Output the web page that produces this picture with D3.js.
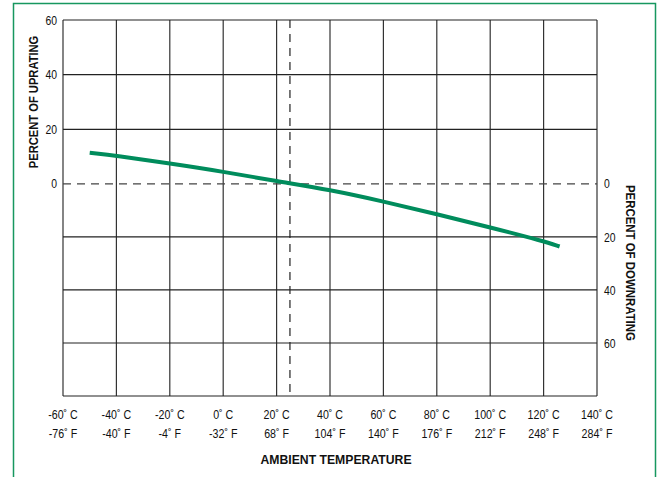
<!DOCTYPE html>
<html>
<head>
<meta charset="utf-8">
<script src="https://cdn.jsdelivr.net/npm/d3@7"></script>
<style>
  body { margin: 0; background: #fff; }
  text { font-family: "Liberation Sans", Arial, sans-serif; fill: #111; }
</style>
</head>
<body>
<div id="chart"></div>
<script>
// temperature ticks (C / F labels)
const tempTicks = [-60, -40, -20, 0, 20, 40, 60, 80, 100, 120, 140];
const fahrLabels = ["-76", "-40", "-4", "-32", "68", "104", "140", "176", "212", "248", "284"];

// up ticks (left) and down ticks (right)
const upTicks = [0, 20, 40, 60];
const downTicks = [0, 20, 40, 60];

// curve: temperature in C, percent (+ uprating, - downrating)
const curveTemp = [-50, -40, -20, 0, 20, 40, 60, 80, 100, 120, 126];
const curvePct = [11.4, 10.3, 7.5, 4.5, 1.0, -2.2, -6.6, -11.4, -16.4, -21.6, -23.6];

const refTemp = 25;

const W = 657, H = 477;
const margin = { top: 20, right: 60, bottom: 81, left: 63 },
  width = W - margin.left - margin.right,
  height = H - margin.top - margin.bottom;

const svg = d3.select("#chart")
  .append("svg")
  .attr("width", W)
  .attr("height", H);

// green frame (open at the bottom)
svg.append("path")
  .attr("d", `M13.5,${H} L13.5,3.5 L655.5,3.5 L655.5,${H}`)
  .attr("fill", "none")
  .attr("stroke", "#17975f")
  .attr("stroke-width", 1.5);

const g = svg.append("g")
  .attr("transform", `translate(${margin.left},${margin.top})`);

const x = d3.scaleLinear()
  .domain([-60, 140])
  .range([0, width]);

// upper part is a little stretched in the original
const y = d3.scaleLinear()
  .domain([60, 0, -80])
  .range([0, height * 0.436, height]);

// grid
g.selectAll(".vgrid")
  .data(tempTicks)
  .join("line")
  .attr("x1", d => x(d)).attr("x2", d => x(d))
  .attr("y1", 0).attr("y2", height)
  .attr("stroke", "#333").attr("stroke-width", 1.2);

const hgrid = [60, 40, 20, -20, -40, -60, -80];
g.selectAll(".hgrid")
  .data(hgrid)
  .join("line")
  .attr("x1", 0).attr("x2", width)
  .attr("y1", d => y(d)).attr("y2", d => y(d))
  .attr("stroke", "#222").attr("stroke-width", 1.2);

// dashed reference lines
g.append("line")
  .attr("x1", 0).attr("x2", width)
  .attr("y1", y(0)).attr("y2", y(0))
  .attr("stroke", "#444").attr("stroke-width", 1.2)
  .attr("stroke-dasharray", "8,6");
g.append("line")
  .attr("x1", x(refTemp)).attr("x2", x(refTemp))
  .attr("y1", 0).attr("y2", height)
  .attr("stroke", "#222").attr("stroke-width", 1.2)
  .attr("stroke-dasharray", "8,6");

// curve
const pts = curveTemp.map((t, i) => [t, curvePct[i]]);
g.append("path")
  .datum(pts)
  .attr("fill", "none")
  .attr("stroke", "#008c5c")
  .attr("stroke-width", 4)
  .attr("d", d3.line()
    .x(d => x(d[0]))
    .y(d => y(d[1]))
    .curve(d3.curveBasis));

// left axis labels
g.selectAll(".upl")
  .data(upTicks)
  .join("text")
  .attr("transform", d => `translate(-6,${y(d)}) scale(0.8,1)`)
  .attr("dy", "0.35em")
  .attr("text-anchor", "end")
  .attr("font-size", 13)
  .text(d => d);

// right axis labels
g.selectAll(".dnl")
  .data(downTicks)
  .join("text")
  .attr("transform", d => `translate(${width + 7},${y(-d)}) scale(0.8,1)`)
  .attr("dy", "0.35em")
  .attr("text-anchor", "start")
  .attr("font-size", 13)
  .text(d => d);

// bottom labels
const xl = g.selectAll(".xl")
  .data(tempTicks)
  .join("text")
  .attr("text-anchor", "middle")
  .attr("font-size", 13)
  .attr("transform", d => `translate(${x(d)},${height + 23}) scale(0.82,1)`);
xl.append("tspan").attr("x", 0).attr("y", 0).text(d => `${d}\u02DA C`);
xl.append("tspan").attr("x", 0).attr("y", 19).text((d, i) => `${fahrLabels[i]}\u02DA F`);

// titles
g.append("text")
  .attr("transform", `translate(-25.5,${y(30)}) rotate(-90) scale(0.86,1)`)
  .attr("text-anchor", "middle")
  .attr("font-size", 13)
  .attr("font-weight", "bold")
  .text("PERCENT OF UPRATING");

g.append("text")
  .attr("transform", `translate(${width + 29},${y(0) + 1}) rotate(90) scale(0.88,1)`)
  .attr("text-anchor", "start")
  .attr("font-size", 13)
  .attr("font-weight", "bold")
  .text("PERCENT OF DOWNRATING");

g.append("text")
  .attr("transform", `translate(${width / 2 + 6},${height + 68}) scale(0.94,1)`)
  .attr("text-anchor", "middle")
  .attr("font-size", 13)
  .attr("font-weight", "bold")
  .text("AMBIENT TEMPERATURE");
</script>
</body>
</html>
